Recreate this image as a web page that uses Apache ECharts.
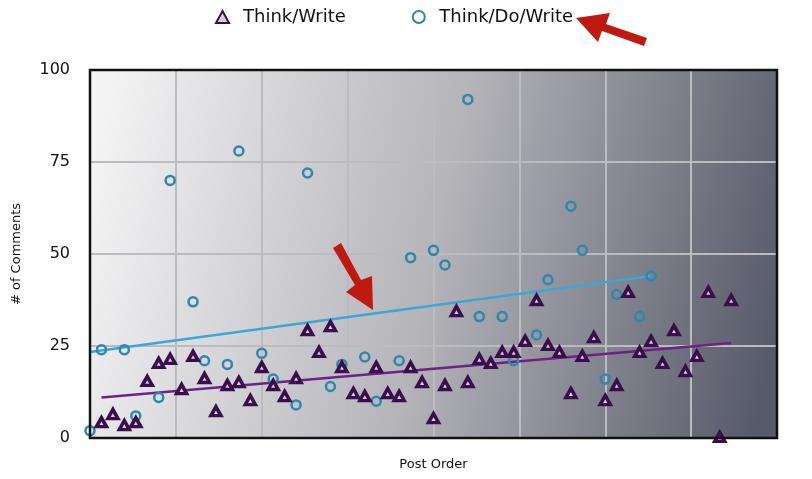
<!DOCTYPE html>
<html>
<head>
<meta charset="utf-8">
<script src="https://cdn.jsdelivr.net/npm/echarts@6/dist/echarts.min.js"></script>
<style>html,body{margin:0;padding:0;background:#fff}#c{width:812px;height:479px}</style>
</head>
<body>
<div id="c"></div>
<script>
// Post order index for each point and # of comments
const thinkWriteX = [1,2,3,4,5,6,7,8,9,10,11,12,13,14,15,16,17,18,19,20,21,22,23,24,25,26,27,28,29,30,31,32,33,34,35,36,37,38,39,40,41,42,43,44,45,46,47,48,49,50,51,52,53,54,55,56];
const thinkWriteY = [4.3,6.5,3.5,4.3,15.5,20.4,21.5,13.3,22.3,16.3,7.3,14.4,15.2,10.3,19.3,14.4,11.4,16.3,29.3,23.4,30.4,19.3,12.2,11.4,19.3,12.2,11.4,19.3,15.2,5.4,14.4,34.5,15.2,21.5,20.4,23.4,23.4,26.4,37.5,25.3,23.4,12.2,22.3,27.4,10.3,14.4,39.7,23.4,26.4,20.4,29.3,18.2,22.3,39.7,0.3,37.5];
const thinkDoWriteX = [0,1,3,4,6,7,9,10,12,13,15,16,18,19,21,22,24,25,27,28,30,31,33,34,36,37,39,40,42,43,45,46,48,49];
const thinkDoWriteY = [2,24,24,6,11,70,37,21,20,78,23,16,9,72,14,20,22,10,21,49,51,47,92,33,33,21,28,43,63,51,16,39,33,44];
// Trend line endpoints [x, y]
const trendThinkWrite = [[1,11.0],[56,25.8]];
const trendThinkDoWrite = [[0,23.4],[49,44.0]];
const yTicks = [0,25,50,75,100];

const FONT = 'DejaVu Sans';
const zip = (xs, ys) => xs.map((x, i) => [x, ys[i]]);

const chart = echarts.init(document.getElementById('c'));
chart.setOption({
  animation: false,
  textStyle: {fontFamily: FONT},
  legend: {
    top: 3, left: 210,
    itemGap: 66, itemWidth: 13, itemHeight: 12,
    textStyle: {fontFamily: FONT, fontSize: 18, color: '#111', padding: [0, 0, 0, 9]},
    data: [
      {name: 'Think/Write', icon: 'triangle'},
      {name: 'Think/Do/Write', icon: 'circle'}
    ]
  },
  grid: {
    left: 90, right: 35, top: 70, bottom: 41,
    show: true,
    borderWidth: 0,
    backgroundColor: new echarts.graphic.LinearGradient(0, 0.3, 1, 0.7, [
      {offset: 0, color: '#f3f3f4'},
      {offset: 0.5, color: '#b4b4b9'},
      {offset: 1, color: '#575a69'}
    ])
  },
  xAxis: {
    type: 'value', min: 0, max: 60, interval: 7.5,
    name: 'Post Order', nameLocation: 'middle', nameGap: 20,
    nameTextStyle: {fontFamily: FONT, fontSize: 13, color: '#111'},
    axisLabel: {show: false}, axisTick: {show: false},
    axisLine: {show: false},
    splitLine: {show: true, lineStyle: {color: '#bcbcc0', width: 2}}
  },
  yAxis: {
    type: 'value', min: 0, max: 100, interval: 25,
    name: '# of Comments', nameLocation: 'middle', nameGap: 67,
    nameTextStyle: {fontFamily: FONT, fontSize: 13, color: '#111'},
    axisLabel: {fontFamily: FONT, fontSize: 16, color: '#111', margin: 20,
      formatter: v => yTicks.includes(v) ? String(v) : ''},
    axisTick: {show: false}, axisLine: {show: false},
    splitLine: {show: true, lineStyle: {color: '#bcbcc0', width: 2}}
  },
  series: [
    {
      name: 'Think/Do/Write trend', type: 'line', data: trendThinkDoWrite,
      showSymbol: false, silent: true, z: 2,
      lineStyle: {color: '#3ea6d6', width: 2.5}
    },
    {
      name: 'Think/Write trend', type: 'line', data: trendThinkWrite,
      showSymbol: false, silent: true, z: 2,
      lineStyle: {color: '#6f2284', width: 2.5}
    },
    {
      name: 'Think/Do/Write', type: 'scatter', data: zip(thinkDoWriteX, thinkDoWriteY),
      symbol: 'circle', symbolSize: 9, z: 3,
      itemStyle: {color: 'rgba(0,0,0,0)', borderColor: '#2e87ad', borderWidth: 2.5, opacity: 1}
    },
    {
      name: 'Think/Write', type: 'scatter', data: zip(thinkWriteX, thinkWriteY),
      symbol: 'triangle', symbolSize: [10, 9], z: 4,
      itemStyle: {color: '#d8d0dc', borderColor: '#3a0e4c', borderWidth: 3.5, opacity: 1}
    }
  ],
  graphic: [
    {
      type: 'rect', z: 90, silent: true,
      shape: {x: 90, y: 70, width: 687, height: 368},
      style: {fill: 'none', stroke: '#111', lineWidth: 2.5}
    },
    {
      type: 'polygon', z: 100,
      shape: {points: [[647,38],[644,46],[602,31],[598,42],[576,18],[610,13],[606,24]]},
      style: {fill: '#bf1a12'}
    },
    {
      type: 'polygon', z: 100,
      shape: {points: [[333,248],[341,243],[361,280],[372,276],[373,310],[346,292],[355,285]]},
      style: {fill: '#bf1a12'}
    }
  ]
});
</script>
</body>
</html>
